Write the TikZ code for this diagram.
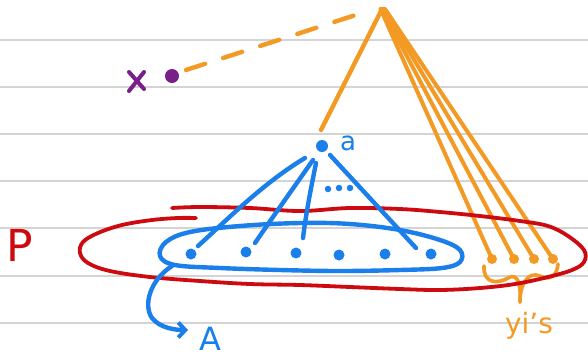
\documentclass[tikz,border=0pt]{standalone}
\usepackage{fontspec}
\setmainfont{DejaVu Sans}
\usetikzlibrary{arrows.meta}
\definecolor{orng}{HTML}{F39A24}
\definecolor{blu}{HTML}{1A7FEA}
\definecolor{rd}{HTML}{CC0A10}
\definecolor{purp}{HTML}{7A1E8A}
\definecolor{ruled}{HTML}{D4D4D4}
\tikzset{
  pen/.style={line width=4.4pt, line cap=round, line join=round},
  ob/.style={pen, draw=orng},
  bb/.style={pen, draw=blu},
  bdot/.style={circle, fill=blu, inner sep=0pt, minimum width=10pt, minimum height=11pt},
  odot/.style={circle, fill=orng, inner sep=0pt, minimum size=10pt},
  sdot/.style={circle, fill=blu, inner sep=0pt, minimum size=6.5pt},
}
\begin{document}
\begin{tikzpicture}[x=1pt,y=-1pt]
\useasboundingbox (0,0) rectangle (588,360);
\fill[white] (0,0) rectangle (588,360);
% ruled paper
\foreach \yy in {40,87,134,181,228,276,323}
  \draw[ruled, line width=1.4pt] (0,\yy) -- (588,\yy);

% purple
\coordinate (xc) at (137,81);
\draw[pen, draw=purp, line width=4pt] ([shift={(-8,-9)}]xc) -- ([shift={(7,8)}]xc);
\draw[pen, draw=purp, line width=4pt] ([shift={(7,-9)}]xc) -- ([shift={(-8,10)}]xc);
\node[circle, fill=purp, inner sep=0pt, minimum width=12pt, minimum height=14pt, rotate=20] (pd) at (172,76) {};

% apex and orange
\coordinate (apex) at (382,9);
\coordinate (dstart) at (186,70);
\coordinate (dend) at (368,11);
\draw[ob, dash pattern=on 20pt off 19pt] (dstart) -- (dend);
\coordinate (atop) at (321,130);
\draw[ob] (apex) -- (atop);

% yi dots
\node[odot] (y1) at (492,259) {};
\node[odot] (y2) at (514,259) {};
\node[odot] (y3) at (534,259) {};
\node[odot] (y4) at (553,259) {};
\foreach \n/\dx in {y1/-1.5,y2/0,y3/1.5,y4/3}
  \draw[ob, line width=4pt] ([xshift=\dx pt]apex) -- (\n.center);

% brace
\coordinate (br0) at (484,266);
\coordinate (brm) at (520,302);
\coordinate (br1) at (558,264);
\draw[ob, line width=3.6pt] (br0) .. controls (483,284) and (498,284) .. (508,278)
   .. controls (518,272) and (521,285) .. (brm);
\draw[ob, line width=3.6pt] (brm) .. controls (520,284) and (528,271) .. (540,276)
   .. controls (550,281) and (557,276) .. (br1);
\node[orng, font=\fontsize{28}{28}\selectfont, inner sep=0pt] (yis) at (529,326) {yi's};

% red loop
\draw[draw=rd, line width=3.8pt, line cap=round] plot[smooth, tension=0.6] coordinates {
 (172,208) (200,207) (250,208) (300,211) (350,208) (400,209) (440,212) (480,216)
 (520,221) (548,226) (568,236) (584,250) (584,262) (572,270) (548,277) (515,284)
 (480,288) (440,290) (400,289) (350,287) (300,285) (250,284) (200,281) (150,277)
 (110,271) (88,263) (80,253) (83,242) (98,233) (122,225) (152,220) (178,218) (196,218)};
\node[rd, font=\fontsize{44}{44}\selectfont, inner sep=0pt] (P) at (20,245) {P};

% blue loop A
\draw[bb] plot[smooth cycle, tension=0.6] coordinates {
 (190,232) (240,226) (300,223) (350,224) (400,230) (440,240) (460,250) (460,262)
 (442,268) (400,270) (340,271) (280,270) (220,268) (175,265) (160,256) (166,242)};

% blue points in A
\node[bdot] (b1) at (191,254) {};
\node[bdot] (b2) at (246,252) {};
\node[bdot] (b3) at (296,253) {};
\node[bdot] (b4) at (339,255) {};
\node[bdot] (b5) at (385,254) {};
\node[bdot] (b6) at (431,254) {};

% point a
\node[circle, fill=blu, inner sep=0pt, minimum width=8pt, minimum height=12pt] (pa) at (322,146) {};
\node[blu, font=\fontsize{26}{26}\selectfont, inner sep=0pt] (la) at (348,143) {a};
\coordinate (s1) at (305,158);
\coordinate (s2) at (313,160);
\coordinate (s3) at (316,163);
\coordinate (s4) at (330,155);
\coordinate (e1) at (198,246);
\coordinate (e2) at (255,243);
\coordinate (e3) at (303,238);
\coordinate (e4) at (416,248);
\draw[bb] (s1) .. controls (265,182) and (232,215) .. (e1);
\draw[bb] (s2) .. controls (292,190) and (272,218) .. (e2);
\draw[bb] (s3) .. controls (311,188) and (306,213) .. (e3);
\draw[bb] (s4) -- (e4);
\node[sdot] (d1) at (328,189) {};
\node[sdot] (d2) at (339,188) {};
\node[sdot] (d3) at (350,188) {};

% arrow to A
\coordinate (as) at (172,266);
\node[blu, font=\fontsize{32}{32}\selectfont, inner sep=0pt] (A) at (210,339) {A};
\coordinate (ae) at (188,330);
\draw[bb, -{Straight Barb[length=7pt, width=15pt, line width=4pt]}]
  (as) .. controls (150,280) and (143,305) .. (152,318) .. controls (160,328) and (175,330) .. (ae);
\end{tikzpicture}
\end{document}
